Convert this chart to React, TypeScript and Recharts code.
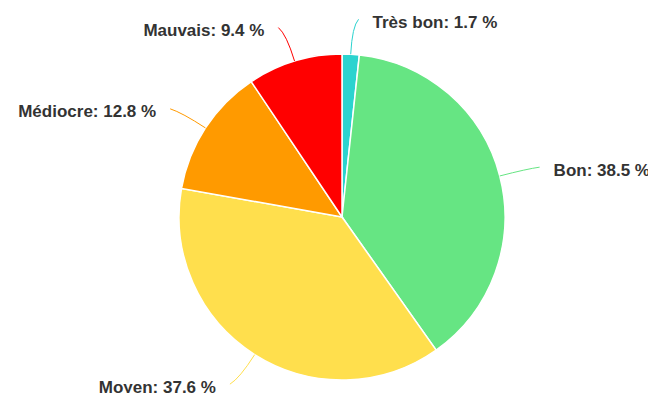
import { PieChart, Pie, Cell } from "recharts";

const labels = ["Très bon", "Bon", "Moyen", "Médiocre", "Mauvais"];
const values = [1.7, 38.5, 37.6, 12.8, 9.4];
const colors = ["#2bd3cf", "#66e583", "#ffdf4d", "#ff9a00", "#ff0000"];

const data = labels.map((name, i) => ({ name, value: values[i] }));

const RAD = Math.PI / 180;

const renderLabel = (props: any) => {
  const { cx, cy, midAngle, outerRadius, index, name, value } = props;
  const cos = Math.cos(-midAngle * RAD);
  const sin = Math.sin(-midAngle * RAD);
  const right = cos >= 0;
  const sx = cx + outerRadius * cos;
  const sy = cy + outerRadius * sin;
  const mx = cx + (outerRadius + 28) * cos;
  const my = cy + (outerRadius + 28) * sin;
  const ex = cx + (outerRadius + 35) * cos + (right ? 6 : -6);
  const ey = cy + (outerRadius + 35) * sin;
  const tx = ex + (right ? 14 : -14);
  return (
    <g>
      <path
        d={`M${sx},${sy} Q${mx},${my} ${ex},${ey}`}
        stroke={colors[index]}
        strokeWidth={1}
        fill="none"
      />
      <text
        x={tx}
        y={ey + 3}
        textAnchor={right ? "start" : "end"}
        dominantBaseline="central"
        fill="#333333"
        fontSize={17}
        fontWeight="bold"
        fontFamily="'Liberation Sans', Arial, sans-serif"
      >
        {`${name}: ${value} %`}
      </text>
    </g>
  );
};

export default function App() {
  return (
    <div style={{ width: 656, height: 401, margin: -8, background: "#fff" }}>
      <PieChart
        width={656}
        height={401}
        margin={{ top: 0, right: 0, bottom: 0, left: 0 }}
        style={{ overflow: "visible" }}
      >
        <Pie
          data={data}
          dataKey="value"
          nameKey="name"
          cx={342}
          cy={217}
          outerRadius={163}
          startAngle={90}
          endAngle={-270}
          stroke="#ffffff"
          strokeWidth={1.5}
          label={renderLabel}
          labelLine={false}
          isAnimationActive={false}
        >
          {data.map((d, i) => (
            <Cell key={d.name} fill={colors[i]} />
          ))}
        </Pie>
      </PieChart>
    </div>
  );
}
